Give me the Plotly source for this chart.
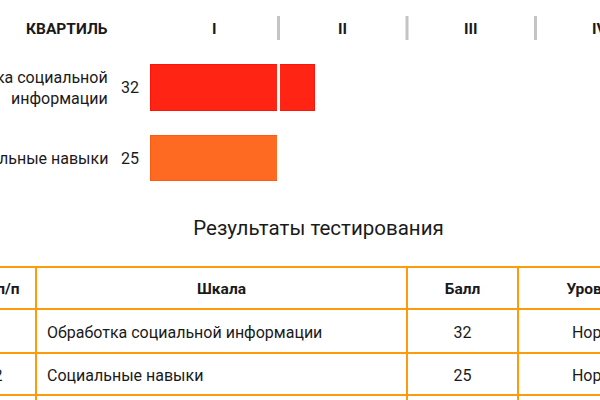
import plotly.graph_objects as go

# ---------------- data ----------------
quartile_labels = ["I", "II", "III", "IV"]
quartile_bounds = [25, 50, 75, 100]
scale_names = ["Обработка социальной информации", "Социальные навыки"]
scale_labels = ["Обработка социальной<br>информации", "Социальные навыки"]
scores = [32, 25]
levels = ["Норма", "Норма"]
row_numbers = ["1", "2"]
table_headers = ["№ п/п", "Шкала", "Балл", "Уровень"]
title_text = "Результаты тестирования"
header_label = "КВАРТИЛЬ"

# ---------------- style / layout constants ----------------
FONT = "Roboto"
TXT = "#1a1a1a"
BAR_FILL = ["#ff2414", "#ff6a22"]
BAR_EDGE = ["#ff1408", "#ff5a14"]
ORANGE = "#ff9a0a"

W, H = 600, 400

def fx(px):
    return px / W

def fy(px):
    return 1 - px / H

X0_PX = 150.0            # pixel where score 0 sits
PX_PER_UNIT = 5.14
ROW0_PX, ROW_STEP = 87.5, 70.5   # bar row centres
SPLIT_PX = 200.0         # boundary between top chart and table
TEXT_DY = 2.5            # vertical nudge of table cell texts

def ypx(px):
    return (px - ROW0_PX) / ROW_STEP

fig = go.Figure()

# ---- bars: split per quartile ----
q1 = quartile_bounds[0]
seg1 = [min(s, q1) for s in scores]
seg2 = [max(s - q1, 0) for s in scores]
for seg in (seg1, seg2):
    fig.add_trace(go.Bar(
        x=seg, y=scale_names, orientation="h", width=0.65,
        marker=dict(color=BAR_FILL, line=dict(color=BAR_EDGE, width=1)),
        hoverinfo="skip", showlegend=False, xaxis="x", yaxis="y"))

xmax = (W - X0_PX) / PX_PER_UNIT
shapes = []
annotations = []

for b in quartile_bounds[:-1]:
    shapes.append(dict(type="line", xref="x", yref="y", x0=b, x1=b,
                       y0=ypx(16), y1=ypx(40),
                       line=dict(color="#c4c4c4", width=3)))
    shapes.append(dict(type="line", xref="x", yref="y", x0=b, x1=b,
                       y0=-0.5, y1=1.5, line=dict(color="white", width=3)))

prev = 0
for lab, b in zip(quartile_labels, quartile_bounds):
    annotations.append(dict(x=(prev + b) / 2, y=ypx(29), xref="x", yref="y",
                            xanchor="center", text="<b>%s</b>" % lab,
                            showarrow=False,
                            font=dict(family=FONT, size=15.5, color=TXT)))
    prev = b
annotations.append(dict(x=fx(110), y=ypx(29), xref="paper", yref="y",
                        xanchor="right", text="<b>%s</b>" % header_label,
                        showarrow=False,
                        font=dict(family=FONT, size=15.5, color=TXT)))

for name, lab, s in zip(scale_names, scale_labels, scores):
    annotations.append(dict(x=fx(110), y=name, xref="paper", yref="y",
                            xanchor="right", align="right", text=lab,
                            showarrow=False,
                            font=dict(family=FONT, size=16, color=TXT)))
    annotations.append(dict(x=fx(130), y=name, xref="paper", yref="y",
                            xanchor="center", text=str(s), showarrow=False,
                            font=dict(family=FONT, size=16, color=TXT)))

# ---------------- table (second subplot, pixel axes) ----------------
col_edges = [-40, 36, 407, 518, 676]
row_edges = [267, 309, 353, 395, 437]
for xe in col_edges:
    shapes.append(dict(type="line", xref="x2", yref="y2", x0=xe, x1=xe,
                       y0=row_edges[0], y1=row_edges[-1],
                       line=dict(color=ORANGE, width=2)))
for ye in row_edges:
    shapes.append(dict(type="line", xref="x2", yref="y2", x0=col_edges[0],
                       x1=col_edges[-1], y0=ye, y1=ye,
                       line=dict(color=ORANGE, width=2)))

centers = [(col_edges[i] + col_edges[i + 1]) / 2 for i in range(4)]
row_c = [(row_edges[i] + row_edges[i + 1]) / 2 + TEXT_DY for i in range(3)]

fig.add_trace(go.Scatter(
    x=centers, y=[row_c[0]] * 4, mode="text",
    text=["<b>%s</b>" % h for h in table_headers], textposition="middle center",
    textfont=dict(family=FONT, size=15.5, color=TXT), cliponaxis=True,
    hoverinfo="skip", showlegend=False, xaxis="x2", yaxis="y2"))
for col, vals in ((0, row_numbers), (2, [str(s) for s in scores]), (3, levels)):
    fig.add_trace(go.Scatter(
        x=[centers[col]] * len(vals), y=row_c[1:], mode="text", text=vals,
        textposition="middle center",
        textfont=dict(family=FONT, size=16, color=TXT), cliponaxis=True,
        hoverinfo="skip", showlegend=False, xaxis="x2", yaxis="y2"))
fig.add_trace(go.Scatter(
    x=[col_edges[1] + 11] * len(scale_names), y=row_c[1:], mode="text",
    text=scale_names, textposition="middle right",
    textfont=dict(family=FONT, size=16, color=TXT), cliponaxis=True,
    hoverinfo="skip", showlegend=False, xaxis="x2", yaxis="y2"))

fig.update_layout(
    width=W, height=H, margin=dict(l=0, r=0, t=0, b=0),
    paper_bgcolor="white", plot_bgcolor="white",
    barmode="stack", bargap=0,
    font=dict(family=FONT, color=TXT),
    title=dict(text=title_text, x=fx(318.5), xanchor="center",
               y=fy(228), yanchor="middle",
               font=dict(family=FONT, size=20.5, color=TXT)),
    xaxis=dict(domain=[fx(X0_PX), 1], range=[0, xmax], visible=False,
               fixedrange=True),
    yaxis=dict(domain=[fy(SPLIT_PX), 1], type="category",
               range=[ypx(SPLIT_PX), ypx(0)], visible=False,
               fixedrange=True),
    xaxis2=dict(domain=[0, 1], range=[0, W], visible=False, anchor="y2",
                fixedrange=True),
    yaxis2=dict(domain=[0, fy(SPLIT_PX)], range=[H, SPLIT_PX],
                visible=False, anchor="x2", fixedrange=True),
    shapes=shapes, annotations=annotations,
)

# place the 600x400 figure flush with the window (no default page margin)
fig.write_html("out.html",
               config={"displayModeBar": False, "staticPlot": True},
               post_script="document.body.style.margin='0';"
                           "document.body.style.overflow='hidden';")
